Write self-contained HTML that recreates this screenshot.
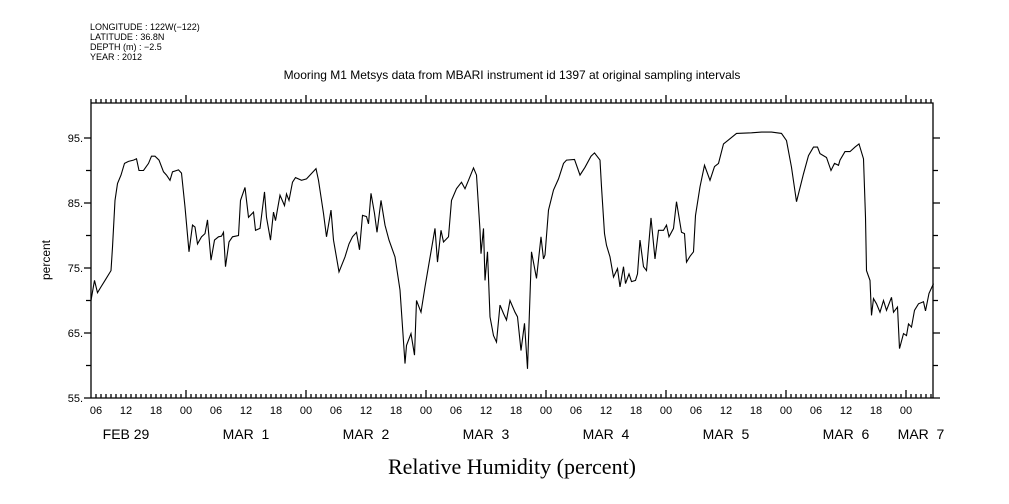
<!DOCTYPE html>
<html><head><meta charset="utf-8"><style>
html,body{margin:0;padding:0;background:#fff;}
svg{display:block;font-family:"Liberation Sans",sans-serif;}
</style></head><body>
<svg id="chart" width="1009" height="504" viewBox="0 0 1009 504">
<g font-size="9" fill="#000">
<text x="90" y="30">LONGITUDE : 122W(−122)</text>
<text x="90" y="40">LATITUDE : 36.8N</text>
<text x="90" y="50">DEPTH (m) : −2.5</text>
<text x="90" y="60">YEAR : 2012</text>
</g>
<text x="512" y="79" font-size="12" text-anchor="middle">Mooring M1 Metsys data from MBARI instrument id 1397 at original sampling intervals</text>
<text x="512" y="474" font-size="22" text-anchor="middle" font-family="Liberation Serif, serif">Relative Humidity (percent)</text>
<text transform="translate(50,260) rotate(-90)" font-size="12" text-anchor="middle">percent</text>
<g id="axes"></g>
<path id="line" fill="none" stroke="#000" stroke-width="1.1"/>
</svg>
<script>
const hours=[5.0,5.7,6.3,7.0,7.8,9.0,9.3,9.8,10.3,11.0,11.7,12.5,13.5,14.1,14.6,15.5,16.5,17.1,17.8,18.6,19.5,20.1,20.8,21.3,22.5,23.1,23.8,24.6,25.3,25.8,26.3,27.1,27.8,28.3,29.0,29.7,30.5,31.1,31.5,31.9,32.6,33.3,34.5,34.9,35.8,36.5,37.5,37.9,38.8,39.7,40.1,40.9,41.5,41.9,42.8,43.7,44.1,44.6,45.3,45.9,47.1,48.1,48.8,50.0,50.5,51.5,52.1,53.0,53.5,54.6,55.8,56.6,57.3,58.1,58.7,59.3,60.1,60.5,61.0,61.7,62.2,63.0,63.8,64.6,65.8,66.8,67.8,68.1,69.0,69.7,70.1,71.0,71.8,72.6,73.8,74.3,75.0,75.5,76.5,77.1,78.1,79.1,79.8,80.5,81.5,82.1,82.8,83.0,83.5,83.8,84.3,84.8,85.5,86.1,86.8,87.5,88.1,88.8,89.8,90.3,91.0,91.7,92.3,93.1,94.1,95.0,95.5,95.8,96.5,97.5,98.5,99.5,100.1,101.7,102.8,103.8,105.0,105.7,106.8,107.1,107.7,108.1,108.8,109.5,110.3,110.8,111.5,111.9,112.6,113.1,113.9,114.3,114.8,115.5,116.1,117.0,117.8,118.5,119.5,120.1,120.6,121.5,122.1,123.1,123.7,124.1,124.8,125.5,125.9,126.8,127.7,128.8,129.7,130.5,131.5,132.5,134.1,137.1,139.1,141.1,143.1,144.1,145.1,146.1,147.5,148.5,149.5,150.3,150.8,152.1,153.0,153.7,154.5,154.8,155.8,156.8,157.8,158.6,159.5,159.9,160.1,160.8,161.1,161.5,162.1,162.8,163.5,164.1,165.1,165.5,166.3,166.7,167.5,168.1,168.5,169.1,169.7,170.5,171.5,171.9,172.6,173.5];
const humidity=[70.0,73.1,71.2,72.1,73.1,74.6,78.2,85.4,88.0,89.3,91.1,91.4,91.6,91.8,90.0,90.0,91.1,92.2,92.2,91.6,89.8,89.3,88.5,89.8,90.1,89.6,84.4,77.5,81.6,81.3,78.7,79.8,80.3,82.4,76.2,79.3,79.8,79.9,80.5,75.2,79.0,79.8,80.0,85.4,87.4,82.8,83.6,80.8,81.1,86.7,82.8,79.3,83.6,82.3,86.2,84.6,86.4,85.4,88.2,88.9,88.5,88.7,89.3,90.3,88.5,83.4,79.8,83.9,79.3,74.4,76.7,78.7,79.8,80.5,77.8,83.1,82.9,81.8,86.5,83.4,80.5,85.4,81.6,79.3,76.7,71.6,60.3,63.1,64.9,61.6,70.0,68.2,72.1,75.7,81.1,75.9,80.8,79.0,79.8,85.4,87.2,88.2,87.2,88.5,90.4,89.3,80.8,77.2,81.1,73.1,77.5,67.5,64.6,63.6,69.3,68.0,67.0,70.0,68.2,67.5,62.3,66.5,59.5,77.5,73.4,79.8,76.4,77.0,83.9,87.0,88.7,91.1,91.6,91.7,89.3,90.5,92.2,92.7,91.6,87.5,80.3,78.5,76.7,73.6,74.9,72.1,75.2,72.6,74.1,72.9,73.1,74.1,79.3,75.2,74.6,82.7,76.4,80.8,80.8,81.6,79.8,81.1,85.2,80.5,80.3,75.9,76.8,77.5,83.1,87.5,90.8,88.5,90.6,91.1,94.1,94.7,95.7,95.8,95.9,95.9,95.7,94.6,90.5,85.2,89.5,92.3,93.6,93.6,92.6,92.0,90.0,91.1,90.8,91.6,92.9,92.9,93.6,94.1,91.8,82.8,74.6,73.1,67.7,70.3,69.5,68.2,70.0,68.5,70.5,68.2,69.0,62.6,64.9,64.6,66.4,65.9,68.5,69.5,69.8,68.4,71.1,72.6];
const yTickLabels=["55.","65.","75.","85.","95."];
const yTickValues=[55,65,75,85,95];
const hourLabels=["06","12","18","00"];
const dayLabels=["FEB 29","MAR  1","MAR  2","MAR  3","MAR  4","MAR  5","MAR  6","MAR  7"];
const dayLabelOffsets=[12,12,12,12,12,12,12,3];

const L=91,R=933,T=103,B=398;
const x=h=>66+h*5;          // hours since Feb 29 00:00
const y=v=>398-(v-55)*6.5;
const NS="http://www.w3.org/2000/svg";
const ax=document.getElementById('axes');
function mk(tag,attrs,parent){const e=document.createElementNS(NS,tag);for(const k in attrs)e.setAttribute(k,attrs[k]);(parent||ax).appendChild(e);return e;}
let d=`M${L} ${T}H${R}V${B}H${L}Z`;
for(let h=5;h<=173;h++){
  const xx=x(h);const major=h%24===0;
  d+=`M${xx} ${B}V${B-(major?8:4)}M${xx} ${T}V${T-(major?8:4)}`;
}
for(let v=55;v<=95;v+=5){
  const yy=y(v);const len=v%10===5?7:5;
  d+=`M${L} ${yy}H${L-len}M${R} ${yy}H${R+len}`;
}
mk('path',{d:d,fill:'none',stroke:'#000','stroke-width':1.3});
yTickLabels.forEach((t,i)=>{
  const e=mk('text',{x:L-8,y:y(yTickValues[i])+4,'font-size':11,'text-anchor':'end'});
  
  
  e.textContent=t;
});
for(let h=6;h<=173;h+=6){
  const e=mk('text',{x:x(h),y:414,'font-size':11,'text-anchor':'middle'});
  
  
  e.textContent=hourLabels[(h/6-1)%4];
}
dayLabels.forEach((t,i)=>{
  const e=mk('text',{x:x(i*24+dayLabelOffsets[i]),y:439,'font-size':14,'text-anchor':'middle'});
  
  
  e.style.whiteSpace='pre';
  e.textContent=t;
});
document.getElementById('line').setAttribute('d',hours.map((h,i)=>(i?'L':'M')+x(h).toFixed(1)+' '+y(humidity[i]).toFixed(1)).join(''));
</script>
</body></html>
